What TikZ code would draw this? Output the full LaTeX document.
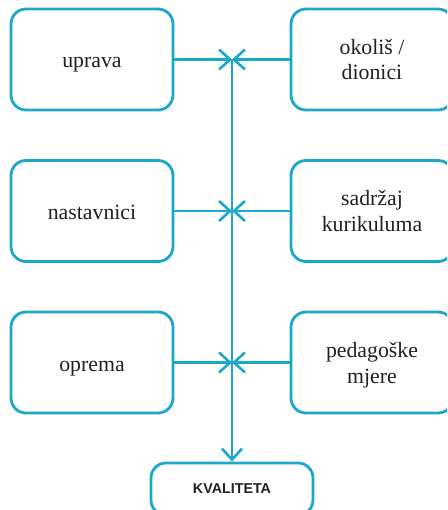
\documentclass[tikz,border=0pt]{standalone}
\usepackage{fontspec}
\setmainfont{Liberation Serif}
\newfontfamily\kvfont{Liberation Sans}
\usetikzlibrary{arrows.meta}
\definecolor{qblue}{HTML}{1BA7CA}
\tikzset{
  qbox/.style={draw=qblue, line width=2.8pt, rounded corners=15pt,
    minimum width=162pt, minimum height=101pt, inner sep=0pt, align=center,
    font=\fontsize{21.8}{25.5}\selectfont, text=black!87},
  qone/.style={qbox, text height=21pt, text depth=4pt},
  qtwo/.style={qbox, text height=46pt, text depth=5pt},
  qline/.style={draw=qblue, line width=2.6pt},
  qarrow/.style={qline, -{Straight Barb[length=11pt, width=20pt, line width=2.6pt]}},
}
\begin{document}
\begin{tikzpicture}[x=1pt, y=-1pt]
\useasboundingbox (0,0) rectangle (447,510);
\clip (0,0) rectangle (447,510);
\node[qone] (upr) at (92,59.5) {uprava};
\node[qone] (nas) at (92,211) {nastavnici};
\node[qone] (opr) at (92,362.5) {oprema};
\node[qtwo] (oko) at (372,59.5) {okoliš /\\dionici};
\node[qtwo] (sad) at (372,211) {sadržaj\\kurikuluma};
\node[qtwo] (ped) at (372,362.5) {pedagoške\\mjere};
\node[qbox, minimum height=52pt, text height=10pt, text depth=2pt,
  font=\kvfont\bfseries\fontsize{14.3}{16}\selectfont] (kva) at (232,489) {KVALITETA};
\coordinate (j1) at (232,59.5);
\coordinate (j2) at (232,211);
\coordinate (j3) at (232,362.5);
\draw[qarrow] (upr.east) -- (j1);
\draw[qarrow] (oko.west) -- (j1);
\draw[qarrow] (nas.east) -- (j2);
\draw[qarrow] (sad.west) -- (j2);
\draw[qarrow] (opr.east) -- (j3);
\draw[qarrow] (ped.west) -- (j3);
\draw[qarrow] (j1) -- (kva.north);
\end{tikzpicture}
\end{document}
